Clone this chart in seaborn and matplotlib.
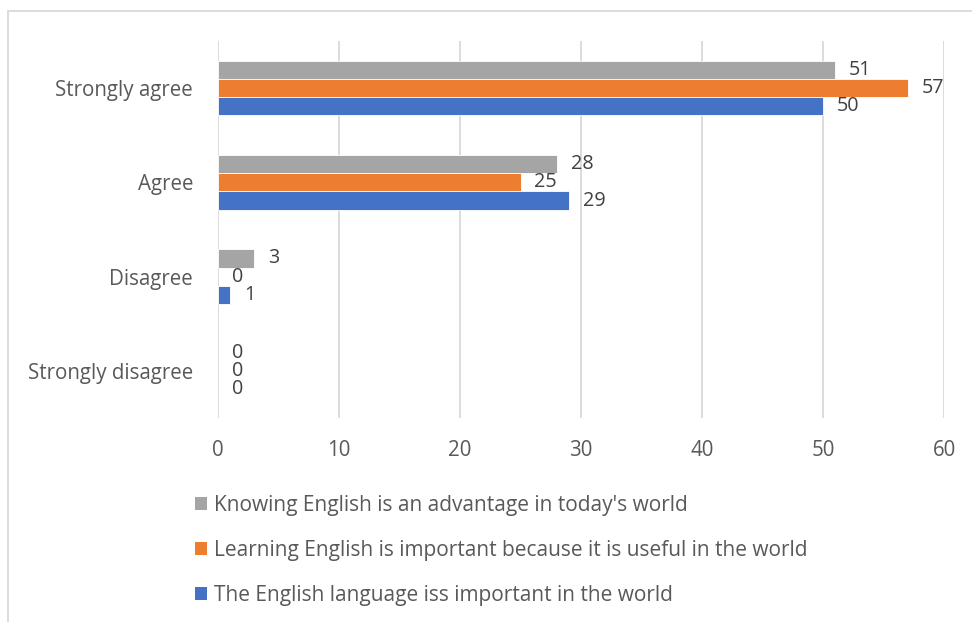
import matplotlib
matplotlib.use("Agg")
import matplotlib.pyplot as plt
import seaborn as sns
import pandas as pd
from matplotlib.patches import Rectangle

categories = ["Strongly agree", "Agree", "Disagree", "Strongly disagree"]
series_names = [
    "Knowing English is an advantage in today's world",
    "Learning English is important because it is useful in the world",
    "The English language iss important in the world",
]
knowing_values = [51, 28, 3, 0]
learning_values = [57, 25, 0, 0]
language_values = [50, 29, 1, 0]
x_ticks = [0, 10, 20, 30, 40, 50, 60]
colors = ["#A5A5A5", "#ED7D31", "#4472C4"]

rows = []
for name, vals in zip(series_names, [knowing_values, learning_values, language_values]):
    for cat, v in zip(categories, vals):
        rows.append({"category": cat, "series": name, "value": v})
df = pd.DataFrame(rows)

sns.set_theme(style="white")
plt.rcParams["font.family"] = ["Open Sans", "DejaVu Sans"]
text_color = "#595959"
fs = 14.8

fig = plt.figure(figsize=(9.72, 6.22), dpi=100)
ax = fig.add_axes([218 / 972, 1 - 418 / 622, (944 - 218) / 972, (418 - 41) / 622])

sns.barplot(
    data=df, y="category", x="value", hue="series",
    order=categories, hue_order=series_names, palette=colors,
    orient="h", width=0.58, ax=ax, legend=True, saturation=1,
    edgecolor="white", linewidth=0.6,
)

# zero-length bars should not mask the zero gridline
for patch in ax.patches:
    if patch.get_width() == 0:
        patch.set_linewidth(0)

ax.set_xlim(0, 60)
ax.set_xticks(x_ticks)
ax.grid(axis="x", color="#D9D9D9", linewidth=1.3)
ax.set_axisbelow(True)
for s in ax.spines.values():
    s.set_visible(False)
ax.set_xlabel("")
ax.set_ylabel("")
ax.tick_params(axis="x", length=0, pad=16, labelsize=fs, labelcolor=text_color)
ax.tick_params(axis="y", length=0, pad=18, labelsize=fs, labelcolor=text_color)

for cont in ax.containers:
    ax.bar_label(cont, fmt="%d", padding=10, fontsize=14.2, color="#404040")

handles, labels = ax.get_legend_handles_labels()
ax.get_legend().remove()
fig.legend(
    handles, labels, loc="upper left", bbox_to_anchor=(176 / 972, 1 - 476 / 622),
    frameon=False, fontsize=15.0, labelcolor=text_color,
    handlelength=0.6, handleheight=0.6, handletextpad=0.3, labelspacing=1.15,
)

# outer chart frame
fig.add_artist(Rectangle((8 / 972, -0.05), 1.1, 1 - 11 / 622 + 0.05,
                         transform=fig.transFigure, fill=False,
                         edgecolor="#D9D9D9", linewidth=1.3))

fig.savefig("out.png", dpi=100)
